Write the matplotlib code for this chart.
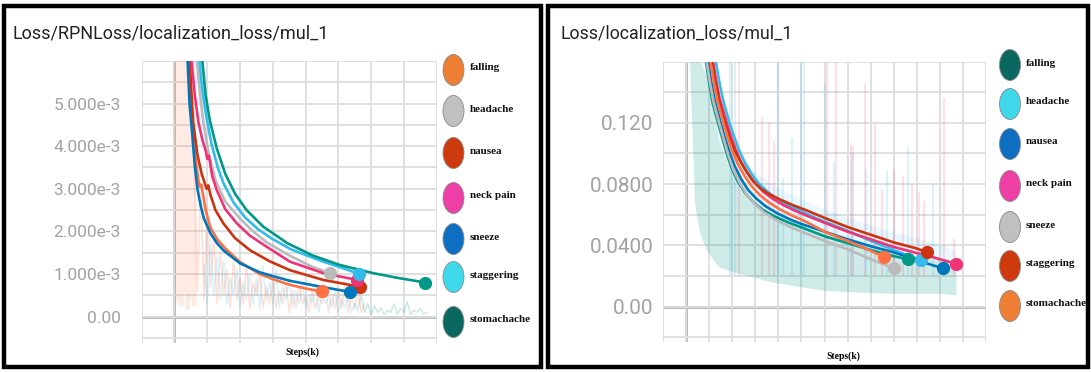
import math
import matplotlib
matplotlib.use("Agg")
import matplotlib.pyplot as plt
from matplotlib.patches import Ellipse, Rectangle

W, H = 1091, 372

# ---------------- data: left chart (loss values in units of 1e-3) ----------------
left_title = "Loss/RPNLoss/localization_loss/mul_1"
left_labels = ["falling", "headache", "nausea", "neck pain", "sneeze", "staggering", "stomachache"]
left_legend_colors = ["#EE7E34", "#C0C0C0", "#CC3A0E", "#EE3FA6", "#0E6EC1", "#3FD8EA", "#0B6861"]
left_line_colors = ["#ff7043", "#bbbbbb", "#cc3311", "#ee3377", "#0077bb", "#33bbee", "#009988"]
left_yticks = [0.0, 1.0, 2.0, 3.0, 4.0, 5.0]
left_yticklabels = ["0.00", "1.000e-3", "2.000e-3", "3.000e-3", "4.000e-3", "5.000e-3"]

falling_l_x = [0.42, 0.48, 0.55, 0.65, 0.73, 0.77, 0.82, 0.95, 1.10, 1.30, 1.55, 2.0, 2.6, 3.0, 3.5, 4.0, 4.49]
falling_l_y = [6.0, 5.1, 4.4, 3.65, 3.2, 3.05, 3.1, 2.5, 2.08, 1.82, 1.6, 1.28, 1.0, 0.88, 0.75, 0.66, 0.59]
headache_l_x = [0.68, 0.78, 0.88, 1.05, 1.26, 1.55, 2.0, 2.4, 2.8, 3.52, 4.2, 4.74]
headache_l_y = [6.0, 5.2, 4.57, 3.8, 3.18, 2.7, 2.3, 2.0, 1.75, 1.43, 1.17, 1.02]
nausea_l_x = [0.47, 0.52, 0.57, 0.70, 0.83, 0.98, 1.03, 1.10, 1.25, 1.49, 1.85, 2.3, 2.9, 3.52, 4.54, 5.66]
nausea_l_y = [6.0, 5.2, 4.57, 3.8, 3.35, 3.0, 3.08, 2.85, 2.5, 2.19, 1.84, 1.56, 1.30, 1.09, 0.86, 0.70]
neckpain_l_x = [0.52, 0.62, 0.73, 0.85, 0.95, 1.0, 1.05, 1.15, 1.29, 1.55, 1.9, 2.3, 2.81, 3.52, 4.54, 5.57]
neckpain_l_y = [6.0, 5.2, 4.57, 4.15, 3.9, 3.7, 3.78, 3.3, 2.97, 2.52, 2.19, 1.9, 1.64, 1.29, 1.02, 0.86]
sneeze_l_x = [0.40, 0.46, 0.55, 0.62, 0.70, 0.80, 0.90, 1.10, 1.30, 1.50, 2.0, 2.6, 3.0, 3.52, 4.0, 4.54, 5.35]
sneeze_l_y = [6.0, 5.0, 4.2, 3.55, 3.0, 2.6, 2.3, 1.95, 1.72, 1.55, 1.25, 1.04, 0.95, 0.84, 0.77, 0.69, 0.58]
staggering_l_x = [0.76, 0.85, 0.97, 1.13, 1.32, 1.5, 1.8, 2.15, 2.55, 2.95, 3.55, 4.5, 5.05, 5.64]
staggering_l_y = [6.0, 5.3, 4.7, 4.05, 3.5, 3.12, 2.68, 2.33, 2.05, 1.84, 1.58, 1.3, 1.16, 1.0]
stomachache_l_x = [0.85, 0.95, 1.08, 1.29, 1.55, 1.85, 2.2, 2.71, 3.45, 4.23, 5.05, 6.06, 6.8, 7.65]
stomachache_l_y = [6.0, 5.2, 4.6, 3.95, 3.35, 2.88, 2.5, 2.11, 1.72, 1.43, 1.21, 1.02, 0.91, 0.80]

# raw (unsmoothed) traces behind the left curves
raw_l_early_x = [0.05, 0.1, 0.15, 0.2, 0.25, 0.3, 0.35, 0.4, 0.45, 0.5, 0.55, 0.6]
raw_l_early_y = [6.2, 0.4, 6.2, 0.3, 6.2, 0.6, 6.2, 0.2, 6.2, 0.5, 6.2, 0.3]
raw_l_pink_x = [0.6 + 0.1 * i for i in range(53)]
raw_l_pink_y = [3.8, 0.6, 3.1, 0.4, 2.6, 0.7, 1.9, 0.3, 1.5, 0.5, 1.1, 0.2, 1.3, 0.4, 0.9, 0.3,
                1.2, 0.2, 0.8, 0.5, 1.0, 0.2, 0.7, 0.3, 0.9, 0.2, 0.6, 0.3, 0.8, 0.1, 0.6, 0.2,
                0.7, 0.3, 0.5, 0.1, 0.6, 0.2, 0.5, 0.3, 0.7, 0.1, 0.5, 0.2, 0.6, 0.2, 0.8, 0.1,
                0.5, 0.2, 0.6, 0.1, 0.3]
raw_l_blue_x = [0.9 + 0.1 * i for i in range(48)]
raw_l_blue_y = [1.2, 0.3, 1.8, 0.5, 1.4, 0.4, 1.3, 0.3, 0.9, 0.5, 1.1, 0.2, 0.8, 0.4, 1.0, 0.3,
                0.9, 0.2, 1.2, 0.4, 0.8, 0.3, 1.1, 0.2, 0.7, 0.4, 0.9, 0.2, 0.6, 0.3, 0.8, 0.2,
                0.5, 0.3, 0.7, 0.1, 0.6, 0.3, 0.5, 0.2, 0.6, 0.1, 0.4, 0.2, 0.5, 0.1, 0.3, 0.1]
raw_l_teal_x = [5.6 + 0.1 * i for i in range(22)]
raw_l_teal_y = [0.2, 0.5, 0.1, 0.3, 0.05, 0.25, 0.1, 0.2, 0.05, 0.15, 0.1, 0.3, 0.05, 0.2, 0.1,
                0.35, 0.05, 0.15, 0.1, 0.2, 0.05, 0.1]

# ---------------- data: right chart ----------------
right_title = "Loss/localization_loss/mul_1"
right_labels = ["falling", "headache", "nausea", "neck pain", "sneeze", "staggering", "stomachache"]
right_legend_colors = ["#0B6861", "#3FD8EA", "#0E6EC1", "#EE3FA6", "#C0C0C0", "#CC3A0E", "#EE7E34"]
right_line_colors = ["#009988", "#33bbee", "#0077bb", "#ee3377", "#bbbbbb", "#cc3311", "#ff7043"]
right_yticks = [0.0, 0.04, 0.08, 0.12]
right_yticklabels = ["0.00", "0.0400", "0.0800", "0.120"]

falling_r_x = [0.87, 1.0, 1.15, 1.40, 1.6, 1.8, 2.0, 2.25, 2.55, 2.9, 3.3, 3.8, 4.4, 5.0, 6.0, 7.0, 8.0, 9.0, 9.61]
falling_r_y = [0.159, 0.146, 0.133, 0.119, 0.1085, 0.098, 0.0895, 0.0815, 0.0745, 0.0685, 0.0635, 0.0592,
               0.0552, 0.0518, 0.046, 0.0415, 0.037, 0.033, 0.031]
headache_r_x = [1.30, 1.45, 1.6, 1.88, 2.08, 2.3, 2.55, 2.85, 3.15, 3.5, 3.9, 4.4, 5.0, 5.6, 6.3, 7.0, 8.0, 9.0, 10.17]
headache_r_y = [0.159, 0.146, 0.135, 0.120, 0.111, 0.102, 0.094, 0.0865, 0.0805, 0.0755, 0.0708, 0.0665,
                0.0622, 0.058, 0.0538, 0.0495, 0.043, 0.037, 0.0303]
nausea_r_x = [0.97, 1.1, 1.25, 1.50, 1.7, 1.9, 2.1, 2.4, 2.7, 3.05, 3.45, 3.95, 4.5, 5.0, 6.0, 7.0, 8.0, 9.0,
              10.0, 10.6, 11.15]
nausea_r_y = [0.159, 0.146, 0.134, 0.120, 0.1095, 0.100, 0.092, 0.083, 0.076, 0.0705, 0.0655, 0.061, 0.057,
              0.054, 0.049, 0.044, 0.0395, 0.0355, 0.0305, 0.0275, 0.025]
neckpain_r_x = [1.18, 1.3, 1.45, 1.76, 1.95, 2.15, 2.4, 2.7, 3.0, 3.35, 3.75, 4.2, 4.7, 5.3, 6.0, 7.0, 8.0,
                9.0, 10.0, 10.43, 11.0, 11.7]
neckpain_r_y = [0.159, 0.148, 0.136, 0.120, 0.111, 0.1025, 0.094, 0.0865, 0.0805, 0.075, 0.0705, 0.0665,
                0.0628, 0.059, 0.0548, 0.049, 0.044, 0.039, 0.035, 0.0335, 0.031, 0.0281]
sneeze_r_x = [0.90, 1.05, 1.2, 1.45, 1.65, 1.85, 2.05, 2.3, 2.6, 2.95, 3.35, 3.85, 4.45, 5.0, 6.0, 7.0, 8.0, 9.03]
sneeze_r_y = [0.159, 0.145, 0.133, 0.119, 0.1085, 0.098, 0.0895, 0.0815, 0.074, 0.0675, 0.062, 0.057,
              0.0525, 0.049, 0.043, 0.0375, 0.031, 0.025]
staggering_r_x = [1.14, 1.28, 1.45, 1.69, 1.9, 2.1, 2.35, 2.6, 2.9, 3.25, 3.6, 4.07, 4.6, 5.2, 6.0, 7.0, 8.0,
                  9.0, 10.0, 10.43]
staggering_r_y = [0.159, 0.146, 0.133, 0.120, 0.110, 0.102, 0.095, 0.0885, 0.082, 0.077, 0.0735, 0.070,
                  0.0665, 0.063, 0.058, 0.052, 0.047, 0.042, 0.038, 0.0356]
stomachache_r_x = [1.07, 1.2, 1.35, 1.62, 1.82, 2.02, 2.25, 2.55, 2.85, 3.2, 3.6, 4.07, 4.6, 5.2, 6.0, 7.0, 8.0, 8.6]
stomachache_r_y = [0.159, 0.147, 0.135, 0.120, 0.110, 0.101, 0.093, 0.085, 0.0785, 0.0728, 0.068, 0.0635,
                   0.0595, 0.0555, 0.049, 0.043, 0.0365, 0.0324]

# raw trace envelopes and spikes behind the right curves
raw_r_env_x = [0.15, 0.37, 0.59, 0.89, 1.2, 1.42, 2.0, 2.32, 3.0, 3.68, 5.0, 5.94, 7.5, 8.97, 10.0, 11.2, 11.7]
raw_r_env_lo = [0.16, 0.067, 0.048, 0.037, 0.030, 0.026, 0.023, 0.0216, 0.019, 0.0162, 0.013, 0.0108, 0.0095,
                0.0087, 0.0087, 0.0087, 0.0076]
raw_r_env_mid = [0.16, 0.16, 0.16, 0.15, 0.125, 0.108, 0.086, 0.077, 0.068, 0.061, 0.053, 0.048, 0.042, 0.036,
                 0.033, 0.030, 0.028]
raw_r_env_hi = [0.16, 0.16, 0.16, 0.16, 0.15, 0.135, 0.11, 0.098, 0.088, 0.080, 0.070, 0.064, 0.056, 0.049,
                0.045, 0.040, 0.036]
raw_r_pink_x = [2.3, 3.3, 3.6, 3.8, 6.1, 6.5, 7.15, 7.25, 7.75, 8.2, 8.5, 9.0, 9.4, 9.8, 10.1, 10.3, 11.2, 11.6]
raw_r_pink_y = [0.16, 0.124, 0.12, 0.108, 0.16, 0.16, 0.107, 0.105, 0.145, 0.119, 0.077, 0.09, 0.085, 0.080,
                0.075, 0.069, 0.136, 0.044]
raw_r_blue_x = [1.9, 2.1, 4.0, 4.2, 4.6, 5.0, 5.1, 6.0, 6.4, 7.2, 7.8, 8.7, 9.6, 10.7]
raw_r_blue_y = [0.16, 0.16, 0.16, 0.084, 0.110, 0.16, 0.16, 0.145, 0.095, 0.10, 0.09, 0.089, 0.104, 0.080]

left_series = [
    (falling_l_x, falling_l_y), (headache_l_x, headache_l_y), (nausea_l_x, nausea_l_y),
    (neckpain_l_x, neckpain_l_y), (sneeze_l_x, sneeze_l_y), (staggering_l_x, staggering_l_y),
    (stomachache_l_x, stomachache_l_y),
]
right_series = [
    (falling_r_x, falling_r_y), (headache_r_x, headache_r_y), (nausea_r_x, nausea_r_y),
    (neckpain_r_x, neckpain_r_y), (sneeze_r_x, sneeze_r_y), (staggering_r_x, staggering_r_y),
    (stomachache_r_x, stomachache_r_y),
]

fig = plt.figure(figsize=(W / 100, H / 100), dpi=100)
fig.patch.set_facecolor("white")


def px_box(x0, y0, x1, y1):
    return [x0 / W, 1 - y1 / H, (x1 - x0) / W, (y1 - y0) / H]


GRID = "#dddddd"
ZERO = "#a6a6a6"
TICK = "#a3a3a3"


def style_axes(ax, xlim, ylim, yticks, yticklabels, minor_step, pad, tick_size):
    ax.set_xticks(range(int(xlim[0]), int(xlim[1]) + 1))
    ax.set_xticklabels([])
    ax.set_yticks(yticks)
    ax.set_yticklabels(yticklabels, fontfamily="Roboto", fontsize=tick_size, color=TICK)
    k0 = math.ceil(ylim[0] / minor_step - 1e-9)
    k1 = math.floor(ylim[1] / minor_step + 1e-9)
    ax.set_yticks([k * minor_step for k in range(k0, k1 + 1)], minor=True)
    ax.set_xlim(*xlim)
    ax.set_ylim(*ylim)
    ax.tick_params(axis="both", which="both", length=0, pad=pad)
    ax.grid(True, which="both", color=GRID, lw=1.3, zorder=0)
    for s in ax.spines.values():
        s.set_visible(False)
    ax.axhline(0, color=ZERO, lw=1.8, zorder=1)
    ax.axvline(0, color=ZERO, lw=1.8, zorder=1)
    ax.set_facecolor("white")


# ---------------- left chart ----------------
axL = fig.add_axes(px_box(141.7, 61.0, 436.7, 343.0))
style_axes(axL, (-1, 8), (-0.62, 6.0), left_yticks, left_yticklabels, 0.5, 15, 12.5)

axL.plot(raw_l_early_x, raw_l_early_y, color="#ff7043", alpha=0.14, lw=3.5, zorder=2)
axL.plot(raw_l_pink_x, raw_l_pink_y, color="#ff7043", alpha=0.2, lw=1.3, zorder=2)
axL.plot(raw_l_blue_x, raw_l_blue_y, color="#33bbee", alpha=0.18, lw=1.2, zorder=2)
axL.plot(raw_l_teal_x, raw_l_teal_y, color="#009988", alpha=0.22, lw=1.0, zorder=2)

for (xs, ys), c in zip(left_series, left_line_colors):
    axL.plot(xs, ys, color=c, lw=1.9, zorder=4, solid_capstyle="round", solid_joinstyle="round")
    axL.plot(xs[-1], ys[-1], "o", color=c, ms=8.5, zorder=5)

# ---------------- right chart ----------------
axR = fig.add_axes(px_box(663.0, 61.5, 986.0, 341.7))
style_axes(axR, (-1, 13), (-0.0228, 0.16), right_yticks, right_yticklabels, 0.02, 7, 15)

axR.fill_between(raw_r_env_x, raw_r_env_lo, raw_r_env_mid, color="#009988", alpha=0.19, lw=0, zorder=2)
axR.fill_between(raw_r_env_x, raw_r_env_mid, raw_r_env_hi, color="#33bbee", alpha=0.1, lw=0, zorder=2)
axR.vlines(raw_r_pink_x, [0.02] * len(raw_r_pink_x), raw_r_pink_y, color="#ee3377", alpha=0.15, lw=1.6, zorder=2)
axR.vlines(raw_r_blue_x, [0.02] * len(raw_r_blue_x), raw_r_blue_y, color="#33bbee", alpha=0.17, lw=1.6, zorder=2)

for (xs, ys), c in zip(right_series, right_line_colors):
    axR.plot(xs, ys, color=c, lw=1.9, zorder=4, solid_capstyle="round", solid_joinstyle="round")
    axR.plot(xs[-1], ys[-1], "o", color=c, ms=8.5, zorder=5)

# ---------------- titles, axis labels, legends ----------------
fig.text(12 / W, 1 - 38 / H, left_title, fontfamily="Roboto", fontsize=13, color="#222222", va="baseline")
fig.text(560 / W, 1 - 38 / H, right_title, fontfamily="Roboto", fontsize=12.8, color="#222222", va="baseline")

serif = ["Liberation Serif", "DejaVu Serif"]
fig.text(302 / W, 1 - 352 / H, "Steps(k)", fontfamily=serif, fontweight="bold", fontsize=7, ha="center", va="center")
fig.text(843 / W, 1 - 356 / H, "Steps(k)", fontfamily=serif, fontweight="bold", fontsize=7, ha="center", va="center")


def draw_legend(cx, ys, labels, colors, tx):
    for y, lab, col in zip(ys, labels, colors):
        fig.patches.append(Ellipse((cx / W, 1 - y / H), 21 / W, 31 / H, transform=fig.transFigure,
                                   facecolor=col, edgecolor="#8a8a8a", lw=0.6))
        fig.text(tx / W, 1 - (y - 2) / H, lab, fontfamily=serif, fontweight="bold", fontsize=8,
                 ha="left", va="center", color="#111111")


draw_legend(453.5, [70, 111, 153, 198, 239, 277, 322], left_labels, left_legend_colors, 470)
draw_legend(1010, [65, 104, 144, 186, 227, 266, 306], right_labels, right_legend_colors, 1026)

# ---------------- black panel frames ----------------
for x0, x1 in [(4, 541), (548, 1088)]:
    fig.patches.append(Rectangle((x0 / W, 1 - 367 / H), (x1 - x0) / W, (367 - 6) / H,
                                 transform=fig.transFigure, fill=False, edgecolor="black", lw=3.2))

fig.savefig("out.png", dpi=100)
